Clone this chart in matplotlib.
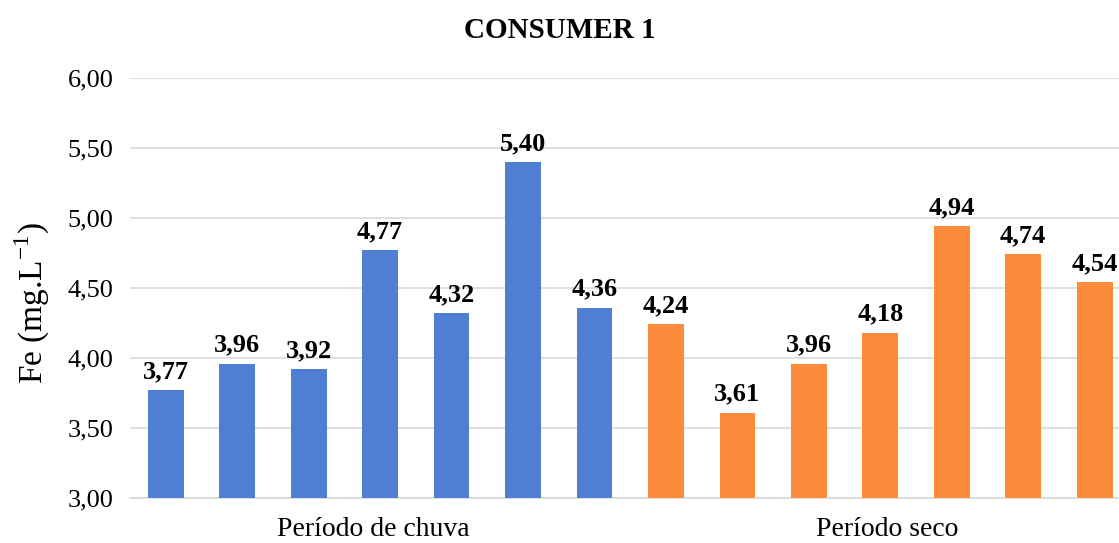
import numpy as np
import matplotlib.pyplot as plt

# Data
chuva = [3.77, 3.96, 3.92, 4.77, 4.32, 5.40, 4.36]
seco = [4.24, 3.61, 3.96, 4.18, 4.94, 4.74, 4.54]
groups = ["Período de chuva", "Período seco"]
yticks = [3.0, 3.5, 4.0, 4.5, 5.0, 5.5, 6.0]

plt.rcParams['font.family'] = ['Liberation Serif', 'DejaVu Serif']
plt.rcParams['mathtext.fontset'] = 'custom'
plt.rcParams['mathtext.rm'] = 'Liberation Serif'

fig = plt.figure(figsize=(11.19, 5.43), dpi=100)
ax = fig.add_axes([130 / 1119, 1 - 498 / 543, 1 - 130 / 1119, (498 - 78) / 543])

values = chuva + seco
colors = ['#4E7FD3'] * len(chuva) + ['#FD8B3B'] * len(seco)
x = np.arange(len(values))
ax.bar(x, np.array(values) - 3.0, bottom=3.0, width=0.5, color=colors, zorder=3)

for xi, v in zip(x, values):
    ax.text(xi, v + 0.05, f"{v:.2f}".replace('.', ','), ha='center', va='bottom',
            fontsize=19, fontweight='bold')

ax.set_ylim(3.0, 6.0)
ax.set_xlim(-0.5, 13.34)
ax.set_yticks(yticks)
ax.set_yticklabels([f"{t:.2f}".replace('.', ',') for t in yticks], fontsize=19)
ax.tick_params(axis='y', length=0, pad=12)
ax.set_xticks([])
ax.grid(axis='y', color='#D9D9D9', linewidth=1.2, zorder=0)
for s in ['top', 'right', 'left']:
    ax.spines[s].set_visible(False)
ax.spines['bottom'].set_color('#D9D9D9')
ax.spines['bottom'].set_linewidth(1.2)

# group labels
ax.text(2.9, -0.075, groups[0], transform=ax.get_xaxis_transform(), ha='center', va='center', fontsize=20)
ax.text(10.1, -0.075, groups[1], transform=ax.get_xaxis_transform(), ha='center', va='center', fontsize=20)

ax.set_ylabel(r"Fe (mg.L$^{\mathrm{-1}}$)", fontsize=24)
ax.yaxis.set_label_coords(-78 / 989, (498 - 303) / 420)
fig.text(0.5, 1 - 30 / 543, "CONSUMER 1", ha='center', va='center', fontsize=21, fontweight='bold')

fig.savefig('out.png', dpi=100)
